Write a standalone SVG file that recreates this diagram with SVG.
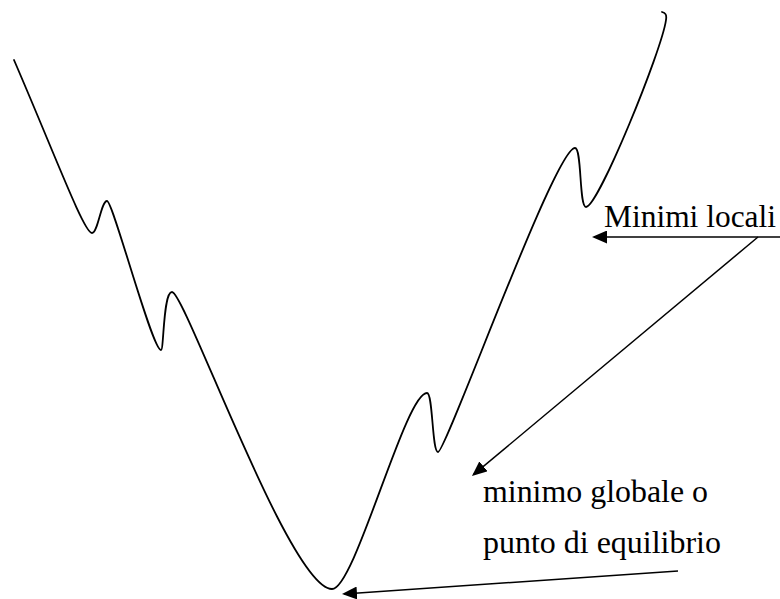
<svg xmlns="http://www.w3.org/2000/svg" width="780" height="599" viewBox="0 0 780 599">
<style>
.curve{fill:none;stroke:#000;stroke-width:1.8;stroke-linejoin:round;stroke-linecap:round}
.conn{fill:none;stroke:#000;stroke-width:1.5}
.lbl{font-family:'Liberation Serif','Times New Roman',Times,serif;font-size:31px;fill:#000}
</style>
<defs>
<marker id="ah" viewBox="0 0 15 13" refX="13" refY="6.5" markerWidth="15" markerHeight="13" markerUnits="userSpaceOnUse" orient="auto">
<path d="M0,0 L15,6.5 L0,13 z" fill="#000"/>
</marker>
</defs>
<rect width="780" height="599" fill="#fff"/>
<g id="curve">
<path class="curve" d="M14,60 C55,155 84,233 92,233 C98,233 101,201 107,201 C113,201 152,350 161,350 C164,350 163,292 172,292 C185,292 290,589 332,589 C355,589 405,393 427,393 C433,393 432,452 438,452 C446,452 555,148 575,148 C582,148 579,207 586,207 C598,207 662,50 666,20 C667,14 665,13 662,12"/>
</g>
<g id="connectors">
<line class="conn" x1="780" y1="237" x2="594" y2="237" marker-end="url(#ah)"/>
<line class="conn" x1="758" y1="237" x2="473.5" y2="474.7" marker-end="url(#ah)"/>
<line class="conn" x1="678" y1="571" x2="344" y2="593.9" marker-end="url(#ah)"/>
</g>
<g id="label-minimi-locali">
<text class="lbl" x="604" y="227" textLength="172" lengthAdjust="spacingAndGlyphs">Minimi locali</text>
</g>
<g id="label-minimo-globale">
<text class="lbl" x="483" y="502" textLength="225" lengthAdjust="spacingAndGlyphs">minimo globale o</text>
<text class="lbl" x="483" y="553" textLength="238" lengthAdjust="spacingAndGlyphs">punto di equilibrio</text>
</g>
</svg>
